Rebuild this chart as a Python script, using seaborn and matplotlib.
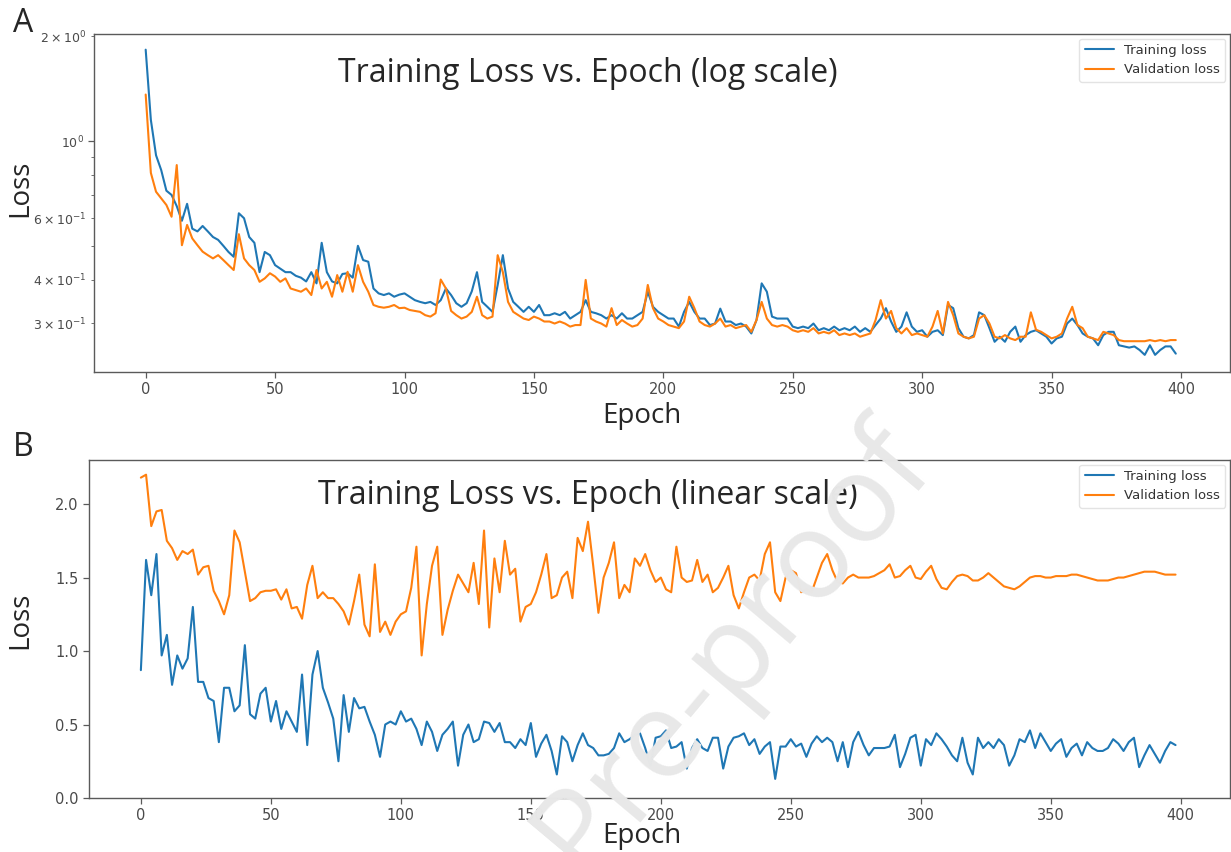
import matplotlib
matplotlib.use("Agg")
import pandas as pd
import matplotlib.pyplot as plt
import seaborn as sns

epochs = list(range(0, 400, 2))

# panel A: log scale
log_train = [
    1.83, 1.15, 0.91, 0.825, 0.72, 0.70, 0.65, 0.59, 0.66, 0.56,
    0.55, 0.57, 0.55, 0.53, 0.52, 0.50, 0.48, 0.465, 0.62, 0.60,
    0.53, 0.51, 0.42, 0.48, 0.47, 0.44, 0.43, 0.42, 0.42, 0.41,
    0.405, 0.395, 0.42, 0.39, 0.51, 0.42, 0.395, 0.39, 0.415, 0.417,
    0.405, 0.50, 0.455, 0.45, 0.377, 0.365, 0.361, 0.365, 0.357, 0.362,
    0.365, 0.357, 0.349, 0.345, 0.342, 0.345, 0.338, 0.349, 0.377, 0.361,
    0.342, 0.334, 0.342, 0.37, 0.42, 0.345, 0.334, 0.323, 0.386, 0.47,
    0.377, 0.345, 0.334, 0.323, 0.334, 0.323, 0.338, 0.316, 0.316, 0.320,
    0.316, 0.323, 0.309, 0.316, 0.323, 0.349, 0.323, 0.320, 0.316, 0.309,
    0.316, 0.309, 0.320, 0.309, 0.309, 0.316, 0.323, 0.369, 0.334, 0.323,
    0.316, 0.309, 0.309, 0.293, 0.323, 0.345, 0.323, 0.309, 0.309, 0.296,
    0.299, 0.33, 0.303, 0.303, 0.296, 0.299, 0.293, 0.280, 0.306, 0.390,
    0.369, 0.313, 0.309, 0.309, 0.309, 0.293, 0.290, 0.293, 0.290, 0.299,
    0.286, 0.290, 0.286, 0.293, 0.286, 0.290, 0.286, 0.293, 0.283, 0.290,
    0.283, 0.296, 0.309, 0.331, 0.303, 0.283, 0.293, 0.322, 0.293, 0.283,
    0.286, 0.274, 0.283, 0.286, 0.277, 0.338, 0.331, 0.290, 0.274, 0.271,
    0.277, 0.322, 0.316, 0.290, 0.265, 0.274, 0.265, 0.283, 0.293, 0.265,
    0.277, 0.283, 0.286, 0.280, 0.274, 0.262, 0.271, 0.274, 0.299, 0.309,
    0.296, 0.280, 0.274, 0.271, 0.259, 0.277, 0.283, 0.283, 0.259, 0.257,
    0.255, 0.257, 0.251, 0.243, 0.259, 0.243, 0.251, 0.257, 0.257, 0.245,
]
log_val = [
    1.36, 0.81, 0.715, 0.684, 0.655, 0.606, 0.853, 0.502, 0.574, 0.525,
    0.502, 0.481, 0.47, 0.46, 0.47, 0.455, 0.44, 0.426, 0.54, 0.46,
    0.44, 0.426, 0.394, 0.403, 0.417, 0.408, 0.394, 0.403, 0.377, 0.373,
    0.369, 0.377, 0.361, 0.426, 0.377, 0.394, 0.357, 0.412, 0.369, 0.421,
    0.369, 0.44, 0.394, 0.369, 0.338, 0.334, 0.332, 0.334, 0.338, 0.331,
    0.332, 0.327, 0.325, 0.323, 0.316, 0.313, 0.320, 0.40, 0.377, 0.325,
    0.316, 0.309, 0.313, 0.323, 0.357, 0.316, 0.309, 0.313, 0.47, 0.42,
    0.345, 0.323, 0.316, 0.309, 0.306, 0.313, 0.309, 0.303, 0.303, 0.299,
    0.303, 0.299, 0.293, 0.296, 0.296, 0.399, 0.309, 0.303, 0.299, 0.293,
    0.331, 0.296, 0.306, 0.299, 0.293, 0.296, 0.309, 0.386, 0.331, 0.309,
    0.303, 0.296, 0.293, 0.290, 0.303, 0.357, 0.331, 0.303, 0.296, 0.293,
    0.299, 0.309, 0.293, 0.296, 0.290, 0.293, 0.296, 0.283, 0.306, 0.345,
    0.309, 0.296, 0.293, 0.296, 0.293, 0.286, 0.283, 0.286, 0.283, 0.290,
    0.280, 0.283, 0.280, 0.286, 0.277, 0.280, 0.277, 0.280, 0.274, 0.277,
    0.280, 0.306, 0.349, 0.309, 0.325, 0.290, 0.280, 0.290, 0.277, 0.280,
    0.277, 0.274, 0.293, 0.325, 0.280, 0.345, 0.316, 0.280, 0.274, 0.271,
    0.274, 0.309, 0.316, 0.299, 0.274, 0.271, 0.277, 0.271, 0.268, 0.274,
    0.274, 0.322, 0.287, 0.283, 0.277, 0.271, 0.274, 0.280, 0.309, 0.334,
    0.296, 0.290, 0.274, 0.271, 0.268, 0.283, 0.280, 0.277, 0.268, 0.266,
    0.266, 0.266, 0.266, 0.266, 0.268, 0.266, 0.268, 0.266, 0.268, 0.268,
]

# panel B: linear scale
lin_train = [
    0.87, 1.62, 1.38, 1.66, 0.97, 1.11, 0.77, 0.97, 0.88, 0.95,
    1.30, 0.79, 0.79, 0.68, 0.66, 0.38, 0.75, 0.75, 0.59, 0.63,
    1.04, 0.57, 0.54, 0.71, 0.75, 0.52, 0.66, 0.47, 0.59, 0.52,
    0.45, 0.84, 0.36, 0.84, 1.00, 0.75, 0.65, 0.54, 0.25, 0.70,
    0.45, 0.68, 0.61, 0.62, 0.52, 0.43, 0.28, 0.50, 0.52, 0.50,
    0.59, 0.52, 0.54, 0.47, 0.36, 0.52, 0.45, 0.32, 0.43, 0.47,
    0.52, 0.22, 0.43, 0.50, 0.38, 0.40, 0.52, 0.51, 0.45, 0.51,
    0.38, 0.38, 0.34, 0.40, 0.36, 0.51, 0.28, 0.37, 0.43, 0.32,
    0.16, 0.42, 0.38, 0.25, 0.36, 0.44, 0.36, 0.34, 0.29, 0.29,
    0.30, 0.34, 0.44, 0.38, 0.40, 0.43, 0.44, 0.34, 0.22, 0.41,
    0.42, 0.46, 0.34, 0.35, 0.38, 0.20, 0.34, 0.40, 0.34, 0.32,
    0.41, 0.41, 0.20, 0.35, 0.41, 0.42, 0.44, 0.36, 0.40, 0.30,
    0.35, 0.38, 0.13, 0.35, 0.35, 0.40, 0.35, 0.37, 0.28, 0.37,
    0.42, 0.38, 0.41, 0.38, 0.25, 0.38, 0.21, 0.38, 0.45, 0.36,
    0.29, 0.34, 0.34, 0.34, 0.35, 0.43, 0.21, 0.30, 0.41, 0.43,
    0.22, 0.40, 0.36, 0.44, 0.40, 0.35, 0.29, 0.25, 0.41, 0.24,
    0.16, 0.41, 0.34, 0.38, 0.34, 0.40, 0.36, 0.22, 0.29, 0.40,
    0.38, 0.46, 0.34, 0.44, 0.38, 0.32, 0.37, 0.40, 0.28, 0.34,
    0.37, 0.29, 0.38, 0.34, 0.32, 0.32, 0.34, 0.40, 0.37, 0.32,
    0.38, 0.41, 0.21, 0.29, 0.36, 0.30, 0.24, 0.32, 0.38, 0.36,
]
lin_val = [
    2.18, 2.20, 1.85, 1.95, 1.96, 1.75, 1.70, 1.62, 1.68, 1.66,
    1.69, 1.52, 1.57, 1.58, 1.41, 1.34, 1.25, 1.38, 1.82, 1.74,
    1.54, 1.34, 1.36, 1.40, 1.41, 1.41, 1.42, 1.35, 1.42, 1.29,
    1.30, 1.22, 1.45, 1.58, 1.36, 1.40, 1.36, 1.36, 1.32, 1.27,
    1.18, 1.34, 1.52, 1.18, 1.10, 1.59, 1.13, 1.20, 1.11, 1.20,
    1.25, 1.27, 1.43, 1.71, 0.97, 1.32, 1.58, 1.71, 1.11, 1.28,
    1.41, 1.52, 1.46, 1.40, 1.60, 1.32, 1.82, 1.16, 1.63, 1.40,
    1.75, 1.52, 1.56, 1.20, 1.30, 1.32, 1.40, 1.52, 1.66, 1.36,
    1.38, 1.50, 1.54, 1.36, 1.77, 1.68, 1.88, 1.58, 1.26, 1.50,
    1.60, 1.74, 1.36, 1.45, 1.40, 1.63, 1.58, 1.66, 1.55, 1.47,
    1.50, 1.42, 1.40, 1.71, 1.50, 1.47, 1.48, 1.62, 1.47, 1.52,
    1.40, 1.43, 1.50, 1.58, 1.38, 1.29, 1.40, 1.50, 1.52, 1.48,
    1.66, 1.74, 1.40, 1.34, 1.50, 1.55, 1.53, 1.40, 1.42, 1.40,
    1.50, 1.60, 1.66, 1.55, 1.47, 1.46, 1.50, 1.52, 1.50, 1.50,
    1.50, 1.51, 1.53, 1.55, 1.59, 1.50, 1.51, 1.55, 1.58, 1.50,
    1.49, 1.54, 1.58, 1.49, 1.43, 1.42, 1.47, 1.51, 1.52, 1.51,
    1.48, 1.48, 1.50, 1.53, 1.50, 1.47, 1.44, 1.43, 1.42, 1.44,
    1.47, 1.50, 1.51, 1.51, 1.50, 1.50, 1.51, 1.51, 1.51, 1.52,
    1.52, 1.51, 1.50, 1.49, 1.48, 1.48, 1.48, 1.49, 1.50, 1.50,
    1.51, 1.52, 1.53, 1.54, 1.54, 1.54, 1.53, 1.52, 1.52, 1.52,
]

series_names = ["Training loss", "Validation loss"]
palette = {"Training loss": "#1f77b4", "Validation loss": "#ff7f0e"}
x_ticks = [0, 50, 100, 150, 200, 250, 300, 350, 400]


def long_df(train, val):
    return pd.DataFrame({
        "Epoch": epochs + epochs,
        "Loss": train + val,
        "series": [series_names[0]] * len(train) + [series_names[1]] * len(val),
    })


sns.set_style("ticks", {"axes.edgecolor": "#5a5a5a", "xtick.color": "#5a5a5a",
                        "ytick.color": "#5a5a5a"})
big_font = "Open Sans"

fig = plt.figure(figsize=(12.31, 8.52), dpi=100)
ax_a = fig.add_axes([0.0764, 0.5634, 0.9228, 0.3967])
ax_b = fig.add_axes([0.0723, 0.0634, 0.9269, 0.3967])

sns.lineplot(data=long_df(log_train, log_val), x="Epoch", y="Loss", hue="series",
             palette=palette, linewidth=1.5, ax=ax_a)
ax_a.set_yscale("log")
ax_a.set_ylim(0.217, 2.03)

sns.lineplot(data=long_df(lin_train, lin_val), x="Epoch", y="Loss", hue="series",
             palette=palette, linewidth=1.5, ax=ax_b)
ax_b.set_ylim(0, 2.3)

for ax in (ax_a, ax_b):
    ax.set_xlim(-19.95, 418.95)
    ax.set_xticks(x_ticks)
    ax.set_xlabel("")
    ax.set_ylabel("")
    ax.tick_params(labelsize=10.5, labelcolor="#4a4a4a", width=0.9, length=4)
    for s in ax.spines.values():
        s.set_linewidth(1.0)
    handles, labels = ax.get_legend_handles_labels()
    leg = ax.legend(handles, labels, loc="upper right", fontsize=9.5, frameon=True,
                    edgecolor="#dddddd", borderaxespad=0.35, handlelength=2.2)
    for t in leg.get_texts():
        t.set_color("#333333")
ax_a.tick_params(axis="y", which="both", labelsize=9, labelcolor="#4a4a4a")

# titles and labels as in the figure
fig.text(0.4777, 0.9143, "Training Loss vs. Epoch (log scale)", ha="center", va="center",
         fontsize=23, family=big_font)
fig.text(0.4777, 0.419, "Training Loss vs. Epoch (linear scale)", ha="center", va="center",
         fontsize=23, family=big_font)
fig.text(0.5215, 0.512, "Epoch", ha="center", va="center", fontsize=20, family=big_font)
fig.text(0.5215, 0.019, "Epoch", ha="center", va="center", fontsize=20, family=big_font)
fig.text(0.0165, 0.779, "Loss", ha="center", va="center", rotation=90, fontsize=20,
         family=big_font)
fig.text(0.0165, 0.272, "Loss", ha="center", va="center", rotation=90, fontsize=20,
         family=big_font)
fig.text(0.0187, 0.973, "A", ha="center", va="center", fontsize=23, family=big_font)
fig.text(0.0187, 0.475, "B", ha="center", va="center", fontsize=23, family=big_font)

# watermark
fig.text(0.595, 0.24, "Pre-proof", ha="center", va="center", rotation=50, fontsize=88,
         color="#e8e8e8", family=big_font, zorder=10)

fig.savefig("out.png", dpi=100)
